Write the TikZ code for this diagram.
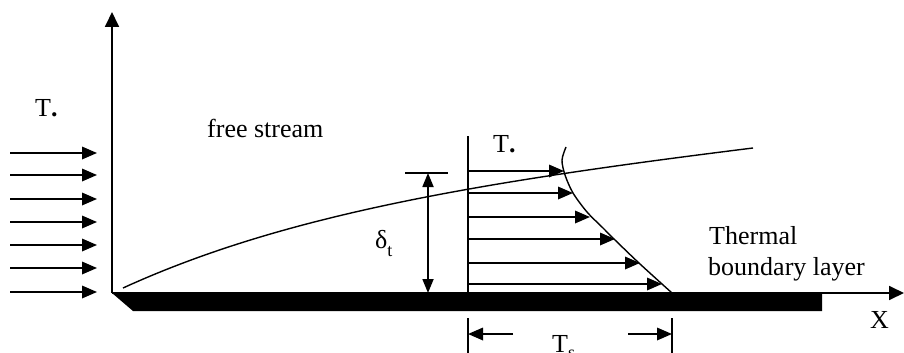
\documentclass[tikz,border=0pt]{standalone}
\usepackage{fontspec}
\setmainfont{Liberation Serif}
\usetikzlibrary{arrows.meta}
\begin{document}
\begin{tikzpicture}[x=1pt,y=-1pt,
  flowarrow/.style={-{Triangle[length=15pt,width=12.5pt]}, line width=1.8pt},
  dimarrow/.style={{Triangle[length=14pt,width=11pt]}-{Triangle[length=14pt,width=11pt]}, line width=1.8pt},
  axis/.style={-{Triangle[length=15pt,width=14pt]}, line width=1.8pt},
  thinline/.style={line width=1.4pt},
  lbl/.style={anchor=base west, inner sep=0pt, font=\fontsize{26}{31}\selectfont}]
\useasboundingbox (0,0) rectangle (904,353);

% plate
\fill[black] (112,293) -- (822,293) -- (822,311) -- (133,311) -- cycle;

% axes
\coordinate (O) at (112,293);
\coordinate (Ytop) at (112,12);
\coordinate (Xend) at (904,293);
\draw[axis] (O) -- (Ytop);
\draw[axis] (O) -- (Xend);
\node[lbl] (xlab) at (870,328) {X};

% incoming free-stream arrows
\foreach \i/\y in {1/153,2/175,3/199,4/222,5/245,6/268,7/292}{
  \coordinate (in\i) at (10,\y);
  \coordinate (ie\i) at (97,\y);
  \draw[flowarrow] (in\i) -- (ie\i);
}
\node[lbl] (tinf) at (35,116) {T\textbf{.}};
\node[lbl] (free) at (207,137) {free stream};

% thermal boundary layer edge
\coordinate (bs) at (123,288);
\coordinate (be) at (753,148);
\draw[thinline] (bs) .. controls (285,214) and (480,182) .. (be);

% delta_t
\coordinate (dtop) at (428,173);
\coordinate (dbot) at (428,293);
\coordinate (barL) at (405,173);
\coordinate (barR) at (448,173);
\draw[thinline] (barL) -- (barR);
\draw[dimarrow] (dtop) -- (dbot);
\node[lbl] (delta) at (375,248) {δ\raisebox{-8pt}{\fontsize{18}{18}\selectfont t}};

% profile
\coordinate (pbot) at (468,293);
\coordinate (ptop) at (468,136);
\draw[thinline] (pbot) -- (ptop);
\node[lbl] (tinf2) at (493,152) {T\textbf{.}};
\foreach \i/\y/\x in {1/171/564,2/193/573,3/217/590,4/239/615,5/263/640,6/284/662}{
  \coordinate (ps\i) at (468,\y);
  \coordinate (pe\i) at (\x,\y);
  \draw[flowarrow] (ps\i) -- (pe\i);
}
\draw[thinline] plot[smooth] coordinates {(566,147) (562,160) (565,175) (573,193) (587,212) (603,228) (615,240) (640,264) (672,293)};

\node[lbl] (therm) at (709,244) {Thermal};
\node[lbl] (bl) at (708,275) {boundary layer};

% Ts dimension
\coordinate (tk1a) at (468,318);
\coordinate (tk1b) at (468,353);
\coordinate (tk2a) at (672,318);
\coordinate (tk2b) at (672,353);
\draw[thinline] (tk1a) -- (tk1b);
\draw[thinline] (tk2a) -- (tk2b);
\coordinate (la) at (513,334);
\coordinate (lt) at (468,334);
\coordinate (ra) at (628,334);
\coordinate (rt) at (672,334);
\draw[flowarrow] (la) -- (lt);
\draw[flowarrow] (ra) -- (rt);
\node[lbl] (ts) at (552,352) {T\raisebox{-6pt}{\fontsize{18}{18}\selectfont s}};
\end{tikzpicture}
\end{document}
